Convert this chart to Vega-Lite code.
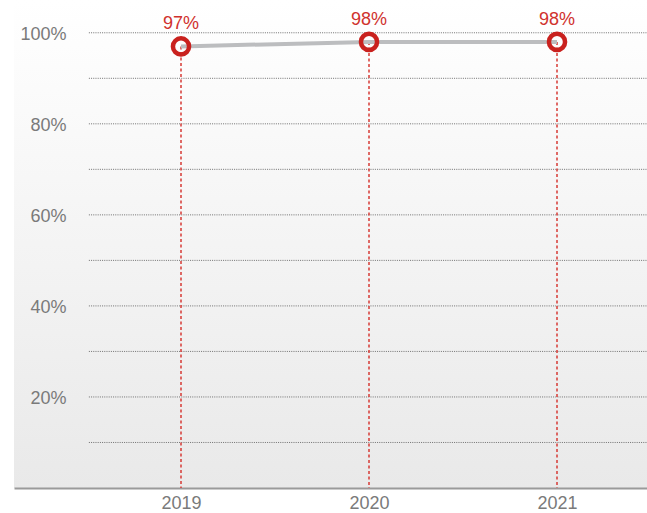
{
  "$schema": "https://vega.github.io/schema/vega-lite/v6.json",
  "autosize": {"type": "none"},
  "width": 633,
  "height": 488,
  "padding": {"left": 14, "top": 0, "right": 0, "bottom": 25},
  "background": "#ffffff",
  "config": {
    "view": {
      "stroke": null,
      "fill": {
        "gradient": "linear",
        "x1": 0, "y1": 0, "x2": 0, "y2": 1,
        "stops": [
          {"offset": 0, "color": "#ffffff"},
          {"offset": 1, "color": "#e9e9e9"}
        ]
      }
    },
    "font": "Liberation Sans",
    "axis": {"labelFont": "Liberation Sans", "labelFontSize": 18, "labelColor": "#7a7a7a", "ticks": false, "grid": false, "title": null}
  },
  "datasets": {
    "share": [
      {"year": 2019, "pct": 97, "label": "97%"},
      {"year": 2020, "pct": 98, "label": "98%"},
      {"year": 2021, "pct": 98, "label": "98%"}
    ],
    "grid": [
      {"level": 10}, {"level": 20}, {"level": 30}, {"level": 40}, {"level": 50},
      {"level": 60}, {"level": 70}, {"level": 80}, {"level": 90}, {"level": 100}
    ]
  },
  "layer": [
    {
      "data": {"name": "grid"},
      "mark": {"type": "rule", "color": "#707070", "strokeWidth": 1, "strokeDash": [1, 1.2]},
      "encoding": {
        "y": {"field": "level", "type": "quantitative", "scale": {"domain": [0, 107.2], "nice": false},
          "axis": {"values": [20, 40, 60, 80, 100], "labelExpr": "datum.value + '%'", "domain": false, "offset": -52, "labelPadding": 0, "labelOffset": 2}},
        "x": {"datum": 2018.51, "type": "quantitative", "scale": {"domain": [2018.1117, 2021.4787], "nice": false, "zero": false},
          "axis": {"values": [2019, 2020, 2021], "format": "d", "domainColor": "#9a9a9a", "domainWidth": 2, "labelPadding": 6}},
        "x2": {"datum": 2021.4787}
      }
    },
    {
      "data": {"name": "share"},
      "mark": {"type": "rule", "color": "#d63a35", "strokeWidth": 1.5, "strokeDash": [3, 2.5]},
      "encoding": {
        "x": {"field": "year", "type": "quantitative"},
        "y": {"field": "pct", "type": "quantitative"},
        "y2": {"datum": 0}
      }
    },
    {
      "data": {"name": "share"},
      "mark": {"type": "line", "color": "#bcbdbf", "strokeWidth": 4},
      "encoding": {
        "x": {"field": "year", "type": "quantitative"},
        "y": {"field": "pct", "type": "quantitative"}
      }
    },
    {
      "data": {"name": "share"},
      "mark": {"type": "point", "shape": "circle", "filled": false, "stroke": "#c9211e", "strokeWidth": 4.5, "size": 260, "opacity": 1},
      "encoding": {
        "x": {"field": "year", "type": "quantitative"},
        "y": {"field": "pct", "type": "quantitative"}
      }
    },
    {
      "data": {"name": "share"},
      "mark": {"type": "text", "color": "#d0312d", "fontSize": 18, "baseline": "alphabetic", "align": "center", "dy": -17},
      "encoding": {
        "x": {"field": "year", "type": "quantitative"},
        "y": {"field": "pct", "type": "quantitative"},
        "text": {"field": "label"}
      }
    }
  ]
}
